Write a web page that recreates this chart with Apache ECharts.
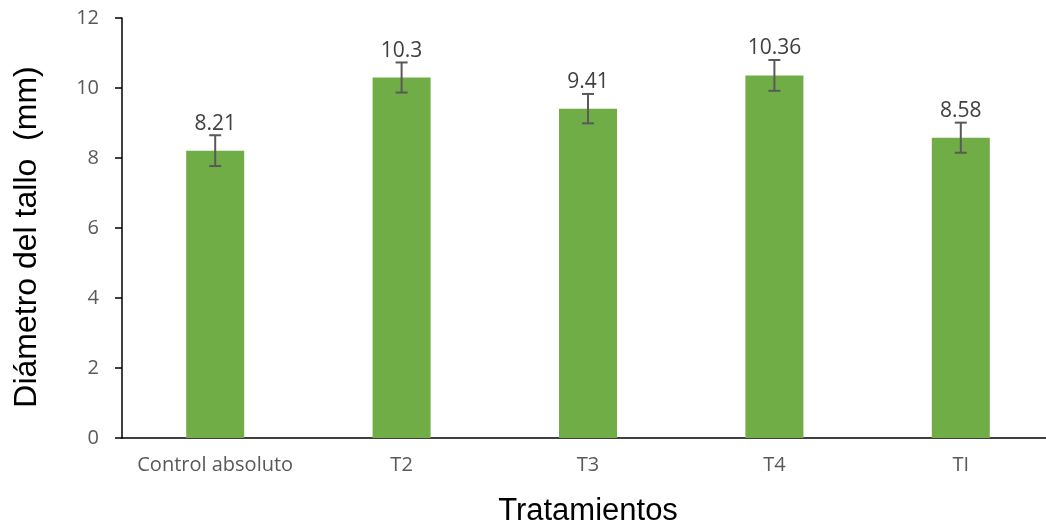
<!DOCTYPE html>
<html>
<head>
<meta charset="utf-8">
<script src="https://cdn.jsdelivr.net/npm/echarts@6/dist/echarts.min.js"></script>
<style>html,body{margin:0;padding:0;background:#fff;}#c{width:1046px;height:524px;}</style>
</head>
<body>
<div id="c"></div>
<script>
const categories = ['Control absoluto', 'T2', 'T3', 'T4', 'TI'];
const values = [8.21, 10.3, 9.41, 10.36, 8.58];
const errors = [0.44, 0.43, 0.42, 0.44, 0.43];
const yTicks = [0, 2, 4, 6, 8, 10, 12];

const chart = echarts.init(document.getElementById('c'), null, {renderer: 'canvas'});
const errData = values.map((v, i) => [i, v, errors[i]]);

chart.setOption({
  animation: false,
  grid: {left: 122, top: 18, bottom: 86, right: -8, containLabel: false, outerBoundsMode: 'none'},
  xAxis: {
    type: 'category',
    data: categories,
    name: 'Tratamientos',
    nameLocation: 'middle',
    nameGap: 58,
    nameTextStyle: {fontFamily: 'Liberation Sans', fontSize: 31, color: '#000'},
    axisLine: {lineStyle: {color: '#000', width: 1.5}},
    axisTick: {show: false},
    axisLabel: {interval: 0, fontFamily: 'Open Sans', fontSize: 20, color: '#595959', margin: 17}
  },
  yAxis: {
    type: 'value',
    min: yTicks[0],
    max: yTicks[yTicks.length - 1],
    interval: 2,
    name: 'Diámetro del tallo  (mm)',
    nameLocation: 'middle',
    nameGap: 79,
    nameTextStyle: {fontFamily: 'Liberation Sans', fontSize: 32, color: '#000', padding: [0, 18, 0, 0]},
    axisLine: {show: true, lineStyle: {color: '#000', width: 1.5}},
    axisTick: {show: true, inside: false, length: 7, lineStyle: {color: '#000', width: 1.5}},
    splitLine: {show: false},
    axisLabel: {fontFamily: 'Open Sans', fontSize: 20, color: '#595959', margin: 23}
  },
  series: [
    {
      type: 'bar',
      data: values,
      barWidth: 58,
      itemStyle: {color: '#70AD47'}
    },
    {
      type: 'custom',
      data: errData,
      z: 10,
      renderItem: function (params, api) {
        const i = api.value(0), v = api.value(1), e = api.value(2);
        const top = api.coord([i, v + e]);
        const bot = api.coord([i, v - e]);
        const half = 6;
        const style = {stroke: '#595959', lineWidth: 2};
        return {
          type: 'group',
          children: [
            {type: 'line', shape: {x1: top[0], y1: top[1], x2: bot[0], y2: bot[1]}, style: style},
            {type: 'line', shape: {x1: top[0] - half, y1: top[1], x2: top[0] + half, y2: top[1]}, style: style},
            {type: 'line', shape: {x1: bot[0] - half, y1: bot[1], x2: bot[0] + half, y2: bot[1]}, style: style},
            {type: 'text', x: top[0], y: top[1] - 1,
              style: {text: String(v), fill: '#404040', font: '21px "Open Sans"', align: 'center', verticalAlign: 'bottom'}}
          ]
        };
      }
    }
  ]
});
</script>
</body>
</html>
